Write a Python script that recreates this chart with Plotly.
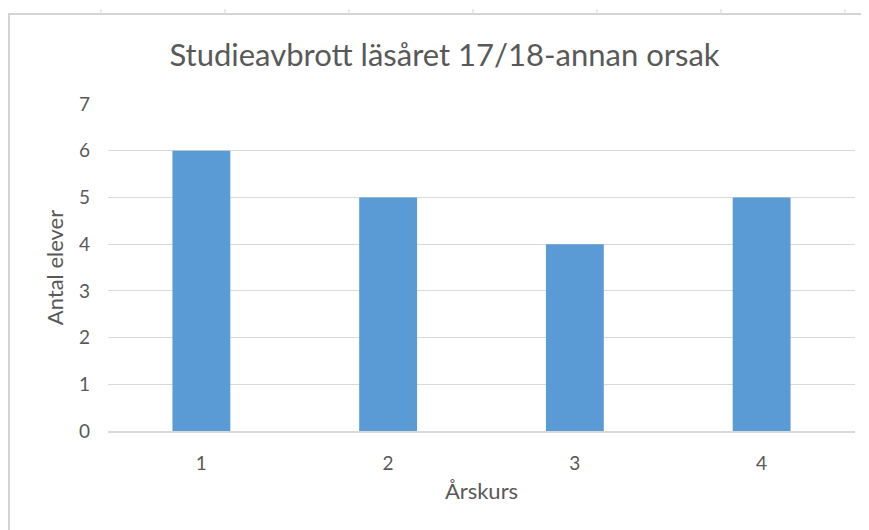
import plotly.graph_objects as go

categories = ["1", "2", "3", "4"]
values = [6, 5, 4, 5]
y_ticks = [0, 1, 2, 3, 4, 5, 6, 7]

title_text = "Studieavbrott läsåret 17/18-annan orsak"
x_title = "Årskurs"
y_title = "Antal elever"

FONT = "Lato, Open Sans, sans-serif"
GRAY = "#595959"
GRID = "#d9d9d9"

# page body has an 8px margin, so the figure is drawn 8px smaller/offset
OFF = 8
W, H = 869 - OFF, 530 - OFF
L, R, T, B = 108 - OFF, 14, 104 - OFF, 99
pw, ph = W - L - R, H - T - B

def px_x(x):
    return (x - OFF - L) / pw

def px_y(y):
    return (H - B - (y - OFF)) / ph

fig = go.Figure(go.Bar(x=categories, y=values, marker=dict(color="#5b9bd5", line=dict(width=0))))

shapes = [
    dict(type="line", xref="paper", yref="paper", x0=px_x(8), x1=px_x(880),
         y0=px_y(14), y1=px_y(14), line=dict(color="#d4d4d4", width=2)),
    dict(type="line", xref="paper", yref="paper", x0=px_x(9), x1=px_x(9),
         y0=px_y(14), y1=px_y(540), line=dict(color="#d4d4d4", width=2)),
]
for tx in [101, 225, 349, 473, 597, 721, 845]:
    shapes.append(dict(type="line", xref="paper", yref="paper", x0=px_x(tx), x1=px_x(tx),
                       y0=px_y(9), y1=px_y(14), line=dict(color="#d4d4d4", width=1)))

fig.update_layout(
    width=W, height=H,
    margin=dict(l=L, r=R, t=T, b=B),
    paper_bgcolor="white", plot_bgcolor="white",
    bargap=0.69,
    showlegend=False,
    font=dict(family=FONT, color=GRAY, size=19),
    title=dict(text=title_text, x=((167 + 722) / 2 - OFF) / W, xanchor="center",
               y=1 - (55 - OFF) / H, yanchor="middle",
               font=dict(size=31, color=GRAY, family=FONT)),
    xaxis=dict(type="category", showgrid=False, showline=True, linecolor=GRID, linewidth=1.5,
               ticks="", ticklabelstandoff=14, tickfont=dict(size=19, color=GRAY),
               title=dict(text=x_title, font=dict(size=22, color=GRAY), standoff=11)),
    yaxis=dict(range=[0, 7], tickvals=y_ticks, showgrid=True, gridcolor=GRID, gridwidth=1,
               zeroline=False, showline=False, ticks="", ticklabelstandoff=17,
               tickfont=dict(size=19, color=GRAY),
               title=dict(text=y_title, font=dict(size=22, color=GRAY), standoff=9)),
    shapes=shapes,
)

fig.write_html("out.html")
